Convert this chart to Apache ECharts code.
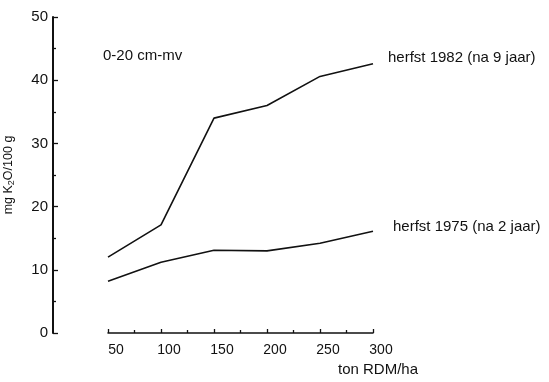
<!DOCTYPE html>
<html>
<head>
<meta charset="utf-8">
<style>html,body{margin:0;padding:0;background:#fff}#c{width:549px;height:382px}</style>
<script src="https://cdn.jsdelivr.net/npm/echarts@6/dist/echarts.min.js"></script>
</head>
<body>
<div id="c"></div>
<script>
var xValues = [50, 100, 150, 200, 250, 300];
var herfst1982 = [12.0, 17.1, 34.0, 36.0, 40.6, 42.6];
var herfst1975 = [8.2, 11.2, 13.1, 13.0, 14.2, 16.1];
var seriesNames = ['herfst 1982 (na 9 jaar)', 'herfst 1975 (na 2 jaar)'];

function pairs(xs, ys) { return xs.map(function (x, i) { return [x, ys[i]]; }); }

var font = 'Liberation Sans, Arial, Helvetica, sans-serif';
var chart = echarts.init(document.getElementById('c'), null, {renderer: 'canvas'});
chart.setOption({
  animation: false,
  backgroundColor: '#fff',
  grid: {left: 108, right: 176, top: 17, bottom: 49},
  xAxis: {
    type: 'value', min: 50, max: 300, interval: 50,
    axisLine: {lineStyle: {color: '#111', width: 1.5}},
    axisTick: {inside: true, length: 4, lineStyle: {color: '#111', width: 1.3}},
    minorTick: {show: true, splitNumber: 2, length: 3, lineStyle: {color: '#111', width: 1.3}},
    splitLine: {show: false},
    axisLabel: {color: '#111', fontSize: 14, fontFamily: font, margin: 10, padding: [0, 0, 0, 16]}
  },
  yAxis: {
    type: 'value', min: 0, max: 50, interval: 10, offset: 55,
    name: '{a|mg K}{s|2}{a|O/100 g}', nameLocation: 'middle', nameRotate: 90, nameGap: 37,
    nameTextStyle: {padding: [0, 0, 0, 0], rich: {
      a: {fontSize: 12.5, fontFamily: font, color: '#111'},
      s: {fontSize: 9, fontFamily: font, color: '#111', verticalAlign: 'bottom', padding: [6, 0, 0, 0]}
    }},
    axisLine: {lineStyle: {color: '#111', width: 2}},
    axisTick: {inside: true, length: 5, lineStyle: {color: '#111', width: 1.3}},
    minorTick: {show: true, splitNumber: 2, length: 3, lineStyle: {color: '#111', width: 1.3}},
    splitLine: {show: false},
    axisLabel: {color: '#111', fontSize: 15, fontFamily: font, margin: 5}
  },
  series: [
    {
      name: seriesNames[0], type: 'line', data: pairs(xValues, herfst1982),
      symbol: 'none', lineStyle: {color: '#111', width: 1.6},
      endLabel: {show: true, formatter: '{a}', color: '#111', fontSize: 15, fontFamily: font, offset: [7, -6]}
    },
    {
      name: seriesNames[1], type: 'line', data: pairs(xValues, herfst1975),
      symbol: 'none', lineStyle: {color: '#111', width: 1.6},
      endLabel: {show: true, formatter: '{a}', color: '#111', fontSize: 15, fontFamily: font, offset: [12, -4]}
    }
  ],
  graphic: [
    {type: 'text', left: 103, top: 48, style: {text: '0-20 cm-mv', fill: '#111', font: '15px ' + font}},
    {type: 'text', left: 338, top: 362, style: {text: 'ton RDM/ha', fill: '#111', font: '15px ' + font}}
  ]
});
</script>
</body>
</html>
